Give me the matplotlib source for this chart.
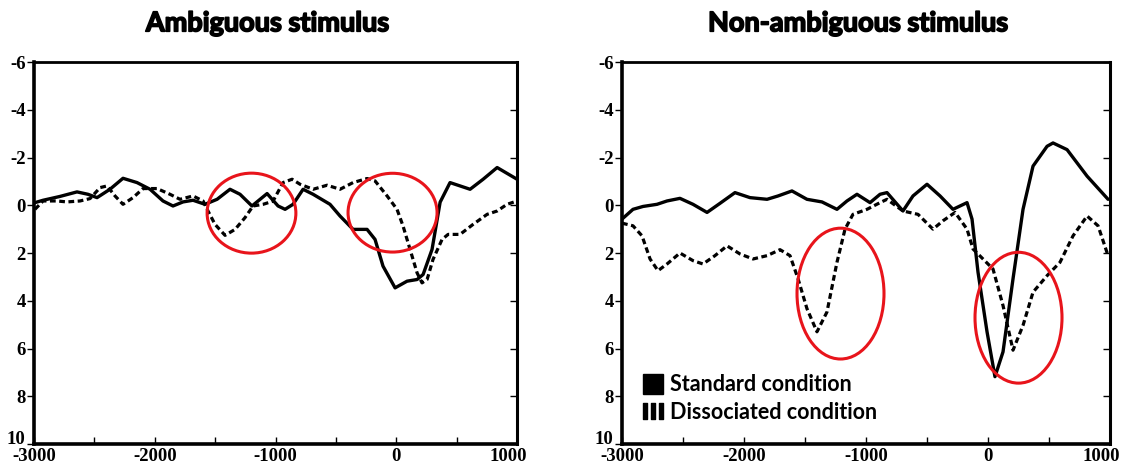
import matplotlib.pyplot as plt
from matplotlib.patches import Ellipse
from matplotlib.lines import Line2D
import matplotlib.transforms as mtransforms
import matplotlib.patheffects as pe

# ambiguous stimulus, standard condition (solid)
amb_std_t = [-2992, -2925, -2785, -2644, -2553, -2478, -2371, -2263, -2147, -2039,
             -1932, -1849, -1766, -1683, -1584, -1484, -1377, -1294, -1195, -1070,
             -979, -921, -855, -772, -689, -549, -466, -358, -242, -176,
             -110, -10, 89, 172, 222, 296, 363, 445, 611, 719, 835, 1000]
amb_std_v = [-0.11, -0.21, -0.37, -0.56, -0.46, -0.32, -0.67, -1.13, -0.95, -0.67,
             -0.18, 0.03, -0.14, -0.21, -0.04, -0.25, -0.67, -0.46, 0.03, -0.49,
             0.03, 0.17, -0.04, -0.67, -0.46, -0.04, 0.45, 1.01, 1.01, 1.43,
             2.55, 3.46, 3.18, 3.11, 2.90, 1.85, -0.13, -0.95, -0.67, -1.09, -1.58, -1.09]

# ambiguous stimulus, dissociated condition (dashed)
amb_dis_t = [-2992, -2925, -2810, -2727, -2619, -2536, -2453, -2395, -2329, -2263,
             -2180, -2097, -1981, -1874, -1791, -1683, -1600, -1559, -1501, -1418,
             -1335, -1253, -1186, -1103, -1021, -938, -863, -797, -689, -573,
             -466, -358, -242, -176, -76, 6, 56, 114, 172, 213,
             255, 304, 379, 429, 528, 636, 752, 835, 917, 1000]
amb_dis_v = [0.17, -0.18, -0.18, -0.14, -0.18, -0.28, -0.74, -0.81, -0.39, -0.04,
             -0.32, -0.70, -0.70, -0.46, -0.25, -0.39, -0.18, 0.24, 0.80, 1.26,
             1.01, 0.52, 0.03, -0.04, -0.17, -0.95, -1.09, -0.88, -0.67, -0.84,
             -0.67, -0.95, -1.12, -1.02, -0.39, 0.17, 0.87, 1.85, 2.83, 3.25,
             3.11, 2.27, 1.43, 1.22, 1.22, 0.80, 0.38, 0.24, -0.04, -0.18]

# non-ambiguous stimulus, standard condition (solid)
non_std_t = [-3000, -2910, -2828, -2713, -2631, -2525, -2418, -2303, -2197, -2074,
             -1951, -1811, -1721, -1607, -1484, -1361, -1238, -1156, -1074, -967,
             -885, -828, -697, -615, -500, -393, -287, -172, -131, -82,
             -8, 57, 123, 205, 287, 369, 484, 533, 648, 812, 984]
non_std_v = [0.58, 0.17, 0.05, -0.04, -0.18, -0.29, -0.04, 0.30, -0.08, -0.53,
             -0.32, -0.25, -0.39, -0.60, -0.25, -0.14, 0.17, -0.18, -0.46, -0.11,
             -0.46, -0.53, 0.24, -0.39, -0.88, -0.39, 0.17, -0.11, 0.58, 2.80,
             5.30, 7.18, 6.14, 3.08, 0.17, -1.64, -2.47, -2.61, -2.33, -1.22, -0.25]

# non-ambiguous stimulus, dissociated condition (dashed)
non_dis_t = [-3000, -2910, -2836, -2770, -2705, -2631, -2525, -2418, -2336, -2238,
             -2139, -2033, -1926, -1811, -1705, -1623, -1557, -1484, -1402, -1320,
             -1238, -1172, -1107, -992, -885, -828, -697, -574, -451, -369,
             -270, -172, -123, -41, 41, 123, 205, 287, 369, 484,
             590, 697, 812, 902, 984]
non_dis_v = [0.75, 0.86, 1.28, 2.25, 2.74, 2.46, 2.00, 2.32, 2.46, 2.11,
             1.70, 2.04, 2.25, 2.11, 1.86, 2.11, 3.08, 4.33, 5.30, 4.47,
             2.39, 1.00, 0.38, 0.17, -0.11, -0.25, 0.24, 0.38, 1.00, 0.65,
             0.30, 1.00, 1.83, 2.25, 2.67, 4.20, 6.07, 5.03, 3.64, 2.95,
             2.39, 1.28, 0.45, 0.86, 2.11]

# red circled regions: (time centre, amplitude centre, time span, amplitude span)
amb_circles = [(-1199, 0.33, 735, 3.35), (-31, 0.31, 737, 3.3)]
non_circles = [(-1209, 3.70, 713, 5.48), (250, 4.71, 713, 5.48)]

titles = ["Ambiguous stimulus", "Non-ambiguous stimulus"]
legend_labels = ["Standard condition", "Dissociated condition"]
xticks = [-3000, -2000, -1000, 0, 1000]
yticks = [-6, -4, -2, 0, 2, 4, 6, 8, 10]

title_font = {"family": "Lato", "weight": "bold", "size": 19.5}
xtick_font = {"family": "Liberation Serif", "weight": "bold", "size": 13.5}
ytick_font = {"family": "Liberation Serif", "weight": "bold", "size": 13.5}

fig = plt.figure(figsize=(11.26, 4.66), dpi=100)
ax1 = fig.add_axes([0.0302, 0.0472, 0.429, 0.8197])
ax2 = fig.add_axes([0.5524, 0.0472, 0.4334, 0.8197])

panels = [(ax1, amb_std_t, amb_std_v, amb_dis_t, amb_dis_v, amb_circles),
          (ax2, non_std_t, non_std_v, non_dis_t, non_dis_v, non_circles)]

for i, (ax, st, sv, dt, dv, circles) in enumerate(panels):
    ax.plot(st, sv, color="black", lw=2.4, solid_joinstyle="round", solid_capstyle="round", zorder=3)
    ax.plot(dt, dv, color="black", lw=2.3, linestyle=(0, (1.8, 1.1)), zorder=3)
    for cx, cy, w, h in circles:
        ax.add_patch(Ellipse((cx, cy), w, h, fill=False, edgecolor="#e8141b", lw=2.2, zorder=4))

    ax.set_xlim(-3000, 1000)
    ax.set_ylim(10, -6)
    ax.set_xticks(range(-3000, 1001, 500))
    ax.set_xticklabels([str(v) if v in xticks else "" for v in range(-3000, 1001, 500)], fontdict=xtick_font)
    ax.set_yticks(yticks)
    ax.set_yticklabels([str(v) for v in yticks], fontdict=ytick_font)
    ax.tick_params(axis="x", direction="in", length=5, width=1, pad=3)
    ax.tick_params(axis="y", direction="out", length=5, width=1, pad=1)

    # lift the bottom y label so it clears the -3000 label
    lift = mtransforms.ScaledTranslation(0, 5 / 72, fig.dpi_scale_trans)
    ylab = ax.get_yticklabels()[-1]
    ylab.set_transform(ylab.get_transform() + lift)
    # the last x label sits a little left of its tick, as in the original
    nudge = mtransforms.ScaledTranslation(-6 / 72, 0, fig.dpi_scale_trans)
    xlab = ax.get_xticklabels()[-1]
    xlab.set_transform(xlab.get_transform() + nudge)

    # right side ticks point inward
    sec = ax.secondary_yaxis("right")
    sec.set_yticks(yticks)
    sec.tick_params(direction="in", length=5, width=1, labelright=False)
    sec.spines["right"].set_linewidth(2.2)

    for side in ["left", "bottom"]:
        ax.spines[side].set_linewidth(2.6)
    for side in ["top", "right"]:
        ax.spines[side].set_linewidth(2.0)

    pos = ax.get_position()
    fig.text(pos.x0 + pos.width / 2 - 0.007, 0.95, titles[i], ha="center", va="center", fontdict=title_font,
             path_effects=[pe.withStroke(linewidth=1.2, foreground="black")])

handles = [Line2D([], [], marker="s", ms=14, color="black", ls="none"),
           Line2D([], [], marker=r"$\mathbf{III}$", ms=15, color="black", ls="none")]
ax2.legend(handles, legend_labels, loc="lower left", bbox_to_anchor=(0.015, 0.028), frameon=False,
           prop={"family": "Lato", "weight": "bold", "size": 15.5}, handletextpad=0.2,
           labelspacing=0.3, handlelength=1.2, borderpad=0)

fig.savefig("out.png", dpi=100)
